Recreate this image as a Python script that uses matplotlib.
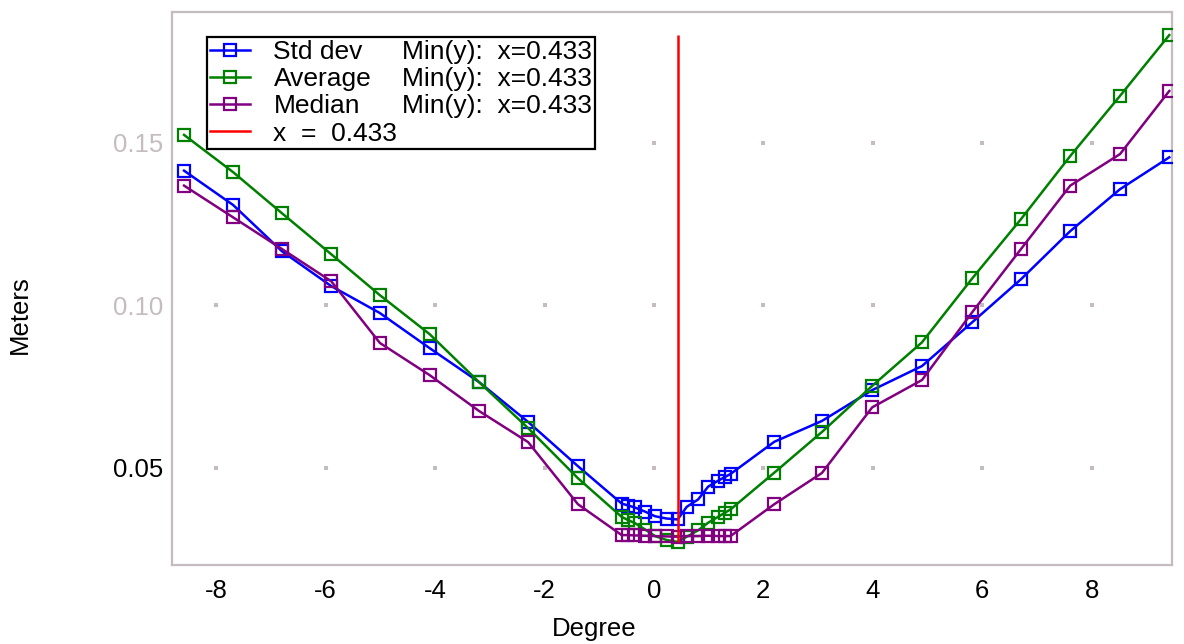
import numpy as np
import matplotlib
matplotlib.use("Agg")
import matplotlib.pyplot as plt
from matplotlib.lines import Line2D

plt.rcParams["font.family"] = ["Liberation Sans", "DejaVu Sans"]

# ----------------------------------------------------------------------
# Data
# ----------------------------------------------------------------------
x_min = 0.433

degree = [-8.59, -7.69, -6.80, -5.90, -5.01, -4.10, -3.20, -2.30, -1.39,
          -0.59, -0.47, -0.35, -0.16, 0.02, 0.23, 0.433, 0.60, 0.81, 0.99, 1.17, 1.30, 1.40,
          2.20, 3.07, 3.99, 4.90, 5.82, 6.71, 7.61, 8.52, 9.42]

std_dev = [0.1414, 0.1308, 0.1166, 0.1059, 0.0976, 0.0868, 0.0764, 0.0641, 0.0505,
           0.0390, 0.0384, 0.0378, 0.0365, 0.0351, 0.0344, 0.0341, 0.0380, 0.0403, 0.0442, 0.0460, 0.0472, 0.0481,
           0.0580, 0.0644, 0.0739, 0.0813, 0.0948, 0.1080, 0.1228, 0.1357, 0.1455]

average = [0.1524, 0.1409, 0.1283, 0.1157, 0.1031, 0.0911, 0.0764, 0.0622, 0.0468,
           0.0349, 0.0339, 0.0330, 0.0310, 0.0290, 0.0278, 0.0272, 0.0288, 0.0308, 0.0331, 0.0349, 0.0362, 0.0372,
           0.0485, 0.0610, 0.0752, 0.0886, 0.1083, 0.1265, 0.1459, 0.1644, 0.1831]

median = [0.1368, 0.1270, 0.1173, 0.1074, 0.0884, 0.0785, 0.0675, 0.0579, 0.0388,
          0.0293, 0.0293, 0.0292, 0.0291, 0.0290, 0.0289, 0.0288, 0.0290, 0.0290, 0.0291, 0.0290, 0.0290, 0.0290,
          0.0388, 0.0484, 0.0686, 0.0770, 0.0979, 0.1173, 0.1368, 0.1465, 0.1659]

x_ticks = [-8, -6, -4, -2, 0, 2, 4, 6, 8]
y_ticks = [0.05, 0.10, 0.15]
y_tick_labels = ["0.05", "0.10", "0.15"]

series_names = ["Std dev", "Average", "Median"]
series_colors = ["#0000ff", "#008000", "#800080"]

GREY = "#c4bcc0"
TICK_FONT = 18.5
LEGEND_FONT = 19

# ----------------------------------------------------------------------
# Figure
# ----------------------------------------------------------------------
fig = plt.figure(figsize=(11.84, 6.44), dpi=100)
ax = fig.add_axes([172 / 1184, 1 - 565 / 644, 1000 / 1184, 553 / 644])

# dotted grid: a small grey square at each tick intersection
gx, gy = np.meshgrid(x_ticks, y_ticks)
ax.scatter(gx.ravel(), gy.ravel(), marker="s", s=12, color=GREY, linewidths=0, zorder=1)

handles = []
for name, values, color in zip(series_names, [std_dev, average, median], series_colors):
    h, = ax.plot(degree, values, color=color, linewidth=1.8, marker="s",
                 markersize=8, markerfacecolor="none", markeredgewidth=1.6,
                 markeredgecolor=color, zorder=3, label=name)
    handles.append(h)

# vertical line at the minimum, spanning the data range
all_y = std_dev + average + median
ax.vlines(x_min, min(all_y), max(all_y), color="#ff0000", linewidth=1.8, zorder=4)
red_handle = Line2D([], [], color="#ff0000", linewidth=1.8)

ax.set_xlim(-8.81, 9.47)
ax.set_ylim(0.0201, 0.1902)
ax.set_xticks(x_ticks)
ax.set_xticklabels([str(t) for t in x_ticks])
ax.set_yticks(y_ticks)
ax.set_yticklabels(y_tick_labels)
ax.tick_params(length=0, labelsize=TICK_FONT)
ax.tick_params(axis="x", pad=10)
ax.tick_params(axis="y", pad=6)
for lab, col in zip(ax.get_yticklabels(), ["black", GREY, GREY]):
    lab.set_color(col)

for sp in ax.spines.values():
    sp.set_color(GREY)
    sp.set_linewidth(1.6)

# axis labels sit a little off centre in the reference
fig.text(594 / 1184, 1 - 629 / 644, "Degree", fontsize=TICK_FONT, ha="center", va="center")
fig.text(20 / 1184, 1 - 315 / 644, "Meters", fontsize=TICK_FONT, ha="center", va="center",
         rotation=90)

# legend: names in column one, the minimum info in column two
blank = Line2D([], [], linestyle="none")
min_text = f"Min(y):  x={x_min}"
leg = ax.legend(handles + [red_handle, blank, blank, blank, blank],
                series_names + [f"x  =  {x_min}", min_text, min_text, min_text, ""],
                ncol=2, loc="upper left", bbox_to_anchor=(0.035, 0.955),
                borderaxespad=0, fontsize=LEGEND_FONT, numpoints=1, handlelength=1.5,
                handletextpad=0.9, labelspacing=0.12, columnspacing=-2.23,
                borderpad=0.12, fancybox=False, framealpha=1, edgecolor="black")
leg.get_frame().set_linewidth(1.6)
leg.set_zorder(5)

fig.savefig("out.png", dpi=100)
